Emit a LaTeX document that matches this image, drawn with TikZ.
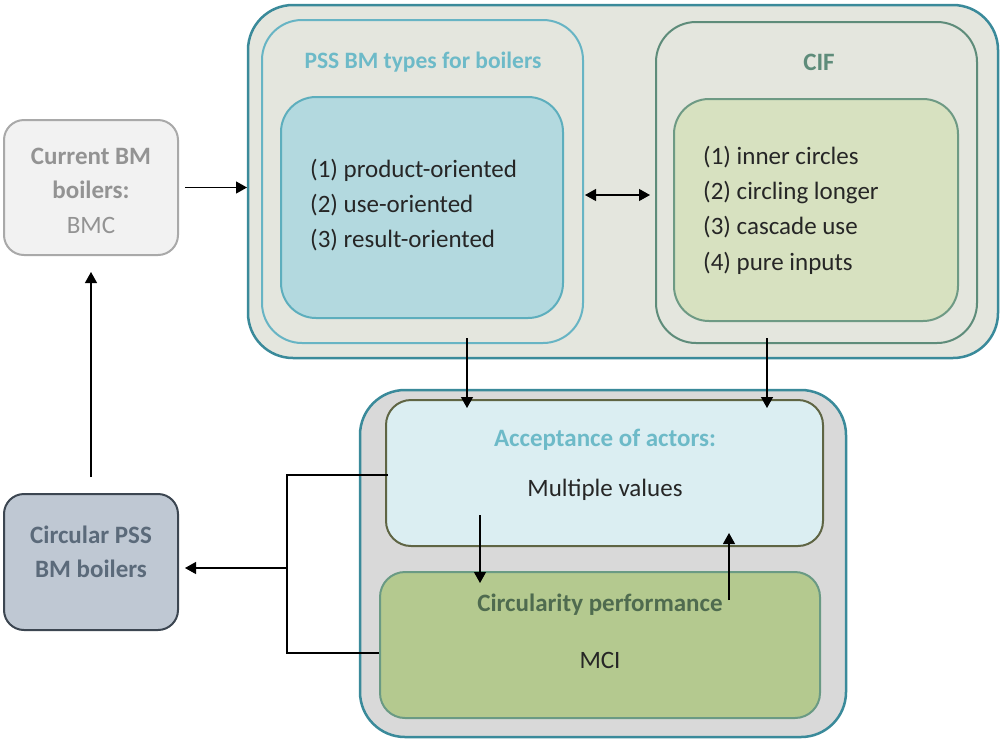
\documentclass[tikz,border=0pt]{standalone}
\usepackage{fontspec}
\setmainfont{Carlito}
\usetikzlibrary{arrows.meta}
\definecolor{outerb}{HTML}{3A8A9A}
\definecolor{topbg}{HTML}{E4E6DE}
\definecolor{pssb}{HTML}{67B4C4}
\definecolor{psst}{HTML}{6DBAC8}
\definecolor{pssinf}{HTML}{B3D9DF}
\definecolor{pssinb}{HTML}{5DAEBD}
\definecolor{cifb}{HTML}{5E8C7A}
\definecolor{cifinf}{HTML}{D7E1C0}
\definecolor{cifinb}{HTML}{6E9A84}
\definecolor{botbg}{HTML}{D9D9D9}
\definecolor{accf}{HTML}{DBEEF2}
\definecolor{accb}{HTML}{5F6544}
\definecolor{circf}{HTML}{B4C98F}
\definecolor{circb}{HTML}{6A9A84}
\definecolor{circt}{HTML}{4F6B4F}
\definecolor{cpssf}{HTML}{BFC8D3}
\definecolor{cpssb}{HTML}{3C4651}
\definecolor{cpsst}{HTML}{5B6A7A}
\definecolor{curf}{HTML}{F2F2F2}
\definecolor{curb}{HTML}{A9A9A9}
\definecolor{curt}{HTML}{939393}
\definecolor{txt}{HTML}{262626}
\tikzset{
  box/.style={rectangle, draw, inner sep=0pt, outer sep=0pt},
  lbl/.style={inner sep=0pt, font=\fontsize{25}{30}\selectfont, text=txt},
  ttl/.style={inner sep=0pt, font=\fontsize{25}{30}\selectfont\bfseries},
  conn/.style={line width=1.2pt, draw=black},
  arr/.style={conn, -{Triangle[length=11pt,width=12pt]}},
  darr/.style={conn, {Triangle[length=11pt,width=12pt]}-{Triangle[length=11pt,width=12pt]}},
}
\begin{document}
\begin{tikzpicture}[x=1pt,y=-1pt]
\useasboundingbox (0,0) rectangle (1001,740);
% top container
\node[box, fill=topbg, draw=outerb, line width=2.5pt, rounded corners=45pt,
  minimum width=750pt, minimum height=353pt] (top) at (623,181.5) {};
\node[box, fill=topbg, draw=pssb, line width=2pt, rounded corners=40pt,
  minimum width=321pt, minimum height=323pt] (pss) at (422.5,181.5) {};
\node[ttl, text=psst, font=\fontsize{23.5}{28}\selectfont\bfseries] (psst) at (423,62) {PSS BM types for boilers};
\node[box, fill=pssinf, draw=pssinb, line width=2pt, rounded corners=35pt,
  minimum width=282pt, minimum height=221pt] (pssin) at (422,207.5) {};
\node[lbl, anchor=west] (p1) at (310,170) {(1) product-oriented};
\node[lbl, anchor=west] (p2) at (310,205) {(2) use-oriented};
\node[lbl, anchor=west] (p3) at (310,240) {(3) result-oriented};
\node[box, fill=topbg, draw=cifb, line width=2pt, rounded corners=40pt,
  minimum width=321pt, minimum height=321pt] (cif) at (816.5,182.5) {};
\node[ttl, text=cifb] (ciftl) at (819,62) {CIF};
\node[box, fill=cifinf, draw=cifinb, line width=2pt, rounded corners=35pt,
  minimum width=284pt, minimum height=222pt] (cifin) at (816,210) {};
\node[lbl, anchor=west] (c1) at (703,157) {(1) inner circles};
\node[lbl, anchor=west] (c2) at (703,192) {(2) circling longer};
\node[lbl, anchor=west] (c3) at (703,227) {(3) cascade use};
\node[lbl, anchor=west] (c4) at (703,263) {(4) pure inputs};
% current BM
\node[box, fill=curf, draw=curb, line width=2pt, rounded corners=20pt,
  minimum width=174pt, minimum height=135pt] (cur) at (91,187.5) {};
\node[ttl, text=curt] (cur1) at (91,156) {Current BM};
\node[ttl, text=curt] (cur2) at (91,190) {boilers:};
\node[lbl, text=curt] (cur3) at (91,225) {BMC};
% bottom container
\node[box, fill=botbg, draw=outerb, line width=2.5pt, rounded corners=45pt,
  minimum width=486pt, minimum height=347pt] (bot) at (603,563.5) {};
\node[box, fill=accf, draw=accb, line width=2pt, rounded corners=25pt,
  minimum width=437pt, minimum height=146pt] (acc) at (604.5,473) {};
\node[ttl, text=psst] (acct) at (605,440) {Acceptance of actors:};
\node[lbl] (accv) at (605,490) {Multiple values};
\node[box, fill=circf, draw=circb, line width=2pt, rounded corners=25pt,
  minimum width=440pt, minimum height=146pt] (circ) at (600,645) {};
\node[ttl, text=circt] (circt1) at (600,605) {Circularity performance};
\node[lbl] (mci) at (600,660) {MCI};
% circular PSS
\node[box, fill=cpssf, draw=cpssb, line width=2pt, rounded corners=20pt,
  minimum width=174pt, minimum height=136pt] (cpss) at (91,562) {};
\node[ttl, text=cpsst] (cp1) at (91,535) {Circular PSS};
\node[ttl, text=cpsst] (cp2) at (91,569) {BM boilers};
% connectors
\coordinate (j) at (287,568);
\draw[arr] ([xshift=7pt]cur.east) -- ([xshift=-1pt]top.west |- cur.east);
\draw[darr] ([xshift=2pt]pss.east |- 0,195) -- ([xshift=-6pt]cif.west |- 0,195);
\draw[arr] (467,338) -- (467,408);
\draw[arr] (767,338) -- (767,408);
\draw[arr] (480,515) -- (480,583);
\draw[arr] (729,600) -- (729,533);
\draw[arr] (91,477) -- (91,272);
\draw[conn] ([xshift=2pt]acc.west |- 0,475) -- (287,475) -- (287,653) -- ([xshift=-1pt]circ.west |- 0,653);
\draw[arr] (j) -- ([xshift=7pt]cpss.east |- j);
\end{tikzpicture}
\end{document}
